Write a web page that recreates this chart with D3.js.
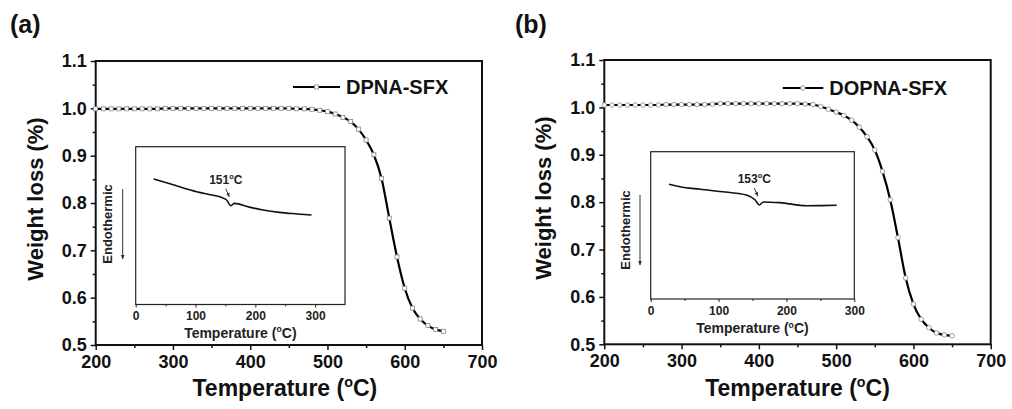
<!DOCTYPE html>
<html>
<head>
<meta charset="utf-8">
<script src="https://cdn.jsdelivr.net/npm/d3@7"></script>
<style>
body { margin: 0; background: #fff; }
svg { display: block; font-family: "Liberation Sans", Arial, sans-serif; font-weight: bold; }
</style>
</head>
<body>
<svg width="1012" height="409"></svg>
<script>
const temps = [200, 210, 220, 230, 240, 250, 260, 270, 280, 290,
               300, 310, 320, 330, 340, 350, 360, 370, 380, 390,
               400, 410, 420, 430, 440, 450, 460, 470, 480, 490,
               500, 510, 520, 530, 540, 550, 560, 570, 580, 590,
               600, 610, 620, 630, 640, 650];
const weightA = [0.999, 0.999, 0.999, 0.999, 0.999, 0.999, 0.999, 0.999, 0.999, 1.000,
                 1.000, 1.000, 1.000, 1.000, 1.000, 1.000, 1.000, 1.000, 1.000, 1.000,
                 1.000, 1.000, 1.000, 1.000, 1.000, 1.000, 0.999, 0.999, 0.998, 0.996,
                 0.993, 0.988, 0.981, 0.972, 0.956, 0.933, 0.902, 0.852, 0.768, 0.686,
                 0.620, 0.578, 0.555, 0.541, 0.533, 0.529];
const weightB = [1.005, 1.005, 1.005, 1.005, 1.005, 1.005, 1.005, 1.005, 1.006, 1.006,
                 1.006, 1.006, 1.006, 1.006, 1.007, 1.008, 1.008, 1.008, 1.008, 1.008,
                 1.008, 1.008, 1.008, 1.008, 1.008, 1.008, 1.007, 1.006, 1.002, 0.996,
                 0.990, 0.983, 0.973, 0.958, 0.938, 0.910, 0.865, 0.805, 0.725, 0.640,
                 0.585, 0.553, 0.535, 0.524, 0.520, 0.518];

// DSC insets (arbitrary heat-flow units)
const dscTempA = [30, 60, 102, 130, 143, 152, 159, 165, 190, 213, 240, 270, 294];
const dscSigA  = [0.796, 0.762, 0.715, 0.692, 0.680, 0.662, 0.626, 0.641, 0.617, 0.599, 0.584, 0.574, 0.567];
const dscTempB = [27, 43, 73, 110, 141, 154, 160, 166, 190, 230, 250, 274];
const dscSigB  = [0.779, 0.762, 0.745, 0.726, 0.706, 0.672, 0.638, 0.659, 0.654, 0.633, 0.634, 0.636];

const xTicks = [200, 300, 400, 500, 600, 700];
const xMinor = [250, 350, 450, 550, 650];
const yTicks = [0.5, 0.6, 0.7, 0.8, 0.9, 1.0, 1.1];
const yMinor = [0.55, 0.65, 0.75, 0.85, 0.95, 1.05];

const svg = d3.select("svg");

// "(oC)" with a raised small o, offsets in px so the baseline comes back exactly
function degC(sel, before, after, size) {
    const up = size * 0.38;
    sel.append("tspan").text(before);
    sel.append("tspan").attr("font-size", size * 0.62).attr("dy", -up).text("o");
    sel.append("tspan").attr("dy", up).text(after);
}

function drawPanel(p) {
    const x = d3.scaleLinear().domain([200, 700]).range([p.left, p.right]);
    const y = d3.scaleLinear().domain([0.5, 1.1]).range([p.bottom, p.top]);
    const g = svg.append("g");

    // minor ticks
    g.append("g").attr("transform", `translate(0,${p.bottom})`)
        .call(d3.axisBottom(x).tickValues(xMinor).tickSize(3).tickFormat(""))
        .call(a => a.select(".domain").remove());
    g.append("g").attr("transform", `translate(${p.left},0)`)
        .call(d3.axisLeft(y).tickValues(yMinor).tickSize(3).tickFormat(""))
        .call(a => a.select(".domain").remove());

    const xa = g.append("g").attr("transform", `translate(0,${p.bottom})`)
        .call(d3.axisBottom(x).tickValues(xTicks).tickSize(5).tickSizeOuter(0).tickPadding(5));
    const ya = g.append("g").attr("transform", `translate(${p.left},0)`)
        .call(d3.axisLeft(y).tickValues(yTicks).tickFormat(d3.format(".1f")).tickSize(5).tickSizeOuter(0).tickPadding(4));
    [xa, ya].forEach(a => {
        a.selectAll("text").attr("font-size", 18).attr("font-weight", "bold")
            .attr("font-family", "Liberation Sans, Arial, sans-serif").attr("fill", "#111");
        a.select(".domain").remove();
    });
    g.selectAll("line").attr("stroke", "#111").attr("stroke-width", 1.5);

    g.append("rect")
        .attr("x", p.left).attr("y", p.top)
        .attr("width", p.right - p.left).attr("height", p.bottom - p.top)
        .attr("fill", "none").attr("stroke", "#111").attr("stroke-width", 2);

    // panel label
    svg.append("text").attr("x", p.labelX).attr("y", 33)
        .attr("font-size", 25).attr("fill", "#111").text(p.label);

    // axis titles
    svg.append("text")
        .attr("transform", `translate(${p.left - 61},${(p.top + p.bottom) / 2 - 4}) rotate(-90)`)
        .attr("text-anchor", "middle").attr("dy", "0.36em")
        .attr("font-size", 22).attr("fill", "#111")
        .text("Weight loss (%)");
    svg.append("text")
        .attr("x", (p.left + p.right) / 2 - p.titleShift).attr("y", 396)
        .attr("text-anchor", "middle").attr("font-size", 23).attr("fill", "#111")
        .call(degC, "Temperature (", "C)", 23);

    // inset
    const ix = d3.scaleLinear().domain([0, p.insetMax]).range([p.inset.left, p.inset.right]);
    const iy = d3.scaleLinear().domain([0, 1]).range([p.inset.bottom, p.inset.top]);
    const ig = svg.append("g");
    ig.append("g").attr("transform", `translate(0,${p.inset.bottom})`)
        .call(d3.axisBottom(ix).tickValues(p.insetMinor).tickSize(2).tickFormat(""))
        .call(a => a.select(".domain").remove());
    const ia = ig.append("g").attr("transform", `translate(0,${p.inset.bottom})`)
        .call(d3.axisBottom(ix).tickValues([0, 100, 200, 300]).tickSize(3).tickSizeOuter(0).tickPadding(4));
    ia.select(".domain").remove();
    ia.selectAll("text").attr("font-size", 12).attr("font-weight", "bold")
        .attr("font-family", "Liberation Sans, Arial, sans-serif").attr("fill", "#222");
    ig.selectAll("line").attr("stroke", "#222").attr("stroke-width", 1);
    ig.append("rect")
        .attr("x", p.inset.left).attr("y", p.inset.top)
        .attr("width", p.inset.right - p.inset.left).attr("height", p.inset.bottom - p.inset.top)
        .attr("fill", "none").attr("stroke", "#222").attr("stroke-width", 1.2);
    ig.append("text")
        .attr("x", (p.inset.left + p.inset.right) / 2).attr("y", p.inset.bottom + p.insetTitleDy)
        .attr("text-anchor", "middle").attr("font-size", 14).attr("fill", "#222")
        .call(degC, "Temperature (", "C)", 14);

    const dsc = p.dscT.map((t, i) => [t, p.dscS[i]]);
    ig.append("path").datum(dsc)
        .attr("d", d3.line().x(d => ix(d[0])).y(d => iy(d[1])).curve(d3.curveMonotoneX))
        .attr("fill", "none").attr("stroke", "#111").attr("stroke-width", 1.6);

    // Tg annotation
    const dip = dsc[p.dipIndex];
    const dx = ix(dip[0]), dy = iy(dip[1]);
    ig.append("text").attr("x", dx - 5).attr("y", dy - 22)
        .attr("text-anchor", "middle").attr("font-size", 12).attr("fill", "#222")
        .call(degC, p.tg, "C", 12);
    ig.append("line").attr("x1", dx - 5).attr("y1", dy - 17).attr("x2", dx - 1.5).attr("y2", dy - 9)
        .attr("stroke", "#222").attr("stroke-width", 0.9).attr("marker-end", "url(#head)");

    // Endothermic arrow
    ig.append("text")
        .attr("transform", `translate(${p.inset.left - p.endoText},${p.endoY}) rotate(-90)`)
        .attr("text-anchor", "middle").attr("dy", "0.36em")
        .attr("font-size", 13).attr("fill", "#222").text("Endothermic");
    ig.append("line")
        .attr("x1", p.inset.left - p.endoArrow).attr("x2", p.inset.left - p.endoArrow)
        .attr("y1", p.endoY - 35).attr("y2", p.endoY + 35)
        .attr("stroke", "#333").attr("stroke-width", 1).attr("marker-end", "url(#head)");

    // main TGA curve
    const pts = temps.map((t, i) => [t, p.weight[i]]);
    g.append("path").datum(pts)
        .attr("d", d3.line().x(d => x(d[0])).y(d => y(d[1])).curve(d3.curveMonotoneX))
        .attr("fill", "none").attr("stroke", "#000").attr("stroke-width", 2.2);
    drawMarkers(g, pts.map(d => [x(d[0]), y(d[1])]), p.marker);

    // legend
    const ly = p.legend.y;
    g.append("line").attr("x1", p.legend.x1).attr("x2", p.legend.x2)
        .attr("y1", ly).attr("y2", ly).attr("stroke", "#000").attr("stroke-width", 2.2);
    drawMarkers(g, [[(p.legend.x1 + p.legend.x2) / 2, ly]], p.marker);
    g.append("text").attr("x", p.legend.x2 + 6).attr("y", ly + 7)
        .attr("font-size", 20).attr("fill", "#111").text(p.name);
}

function drawMarkers(g, xy, shape) {
    if (shape === "square") {
        g.selectAll(null).data(xy).enter().append("rect")
            .attr("x", d => d[0] - 2).attr("y", d => d[1] - 2)
            .attr("width", 4).attr("height", 4)
            .attr("fill", "#fff").attr("stroke", "#888").attr("stroke-width", 0.8);
    } else {
        g.selectAll(null).data(xy).enter().append("circle")
            .attr("cx", d => d[0]).attr("cy", d => d[1]).attr("r", 2.3)
            .attr("fill", "#fff").attr("stroke", "#888").attr("stroke-width", 0.8);
    }
}

svg.append("defs").append("marker")
    .attr("id", "head").attr("viewBox", "0 0 10 10").attr("refX", 9).attr("refY", 5)
    .attr("markerWidth", 5).attr("markerHeight", 5).attr("orient", "auto")
    .append("path").attr("d", "M0,1L10,5L0,9z").attr("fill", "#333");

drawPanel({
    label: "(a)", labelX: 10, name: "DPNA-SFX", weight: weightA, marker: "square",
    left: 95.7, right: 482, top: 61, bottom: 345, titleShift: 4,
    inset: {left: 135.7, right: 345, top: 146.7, bottom: 304.5},
    insetMax: 350, insetMinor: [50, 150, 250], insetTitleDy: 33,
    dscT: dscTempA, dscS: dscSigA, dipIndex: 6, tg: "151",
    endoText: 28, endoArrow: 13, endoY: 224,
    legend: {x1: 293, x2: 340, y: 87}
});

drawPanel({
    label: "(b)", labelX: 515, name: "DOPNA-SFX", weight: weightB, marker: "circle",
    left: 604.3, right: 990.7, top: 60, bottom: 344.3, titleShift: 0,
    inset: {left: 650.7, right: 854.3, top: 151.7, bottom: 299},
    insetMax: 300, insetMinor: [50, 150, 250], insetTitleDy: 34,
    dscT: dscTempB, dscS: dscSigB, dipIndex: 6, tg: "153",
    endoText: 25.7, endoArrow: 10.7, endoY: 230,
    legend: {x1: 782.7, x2: 823.3, y: 88}
});
</script>
</body>
</html>
